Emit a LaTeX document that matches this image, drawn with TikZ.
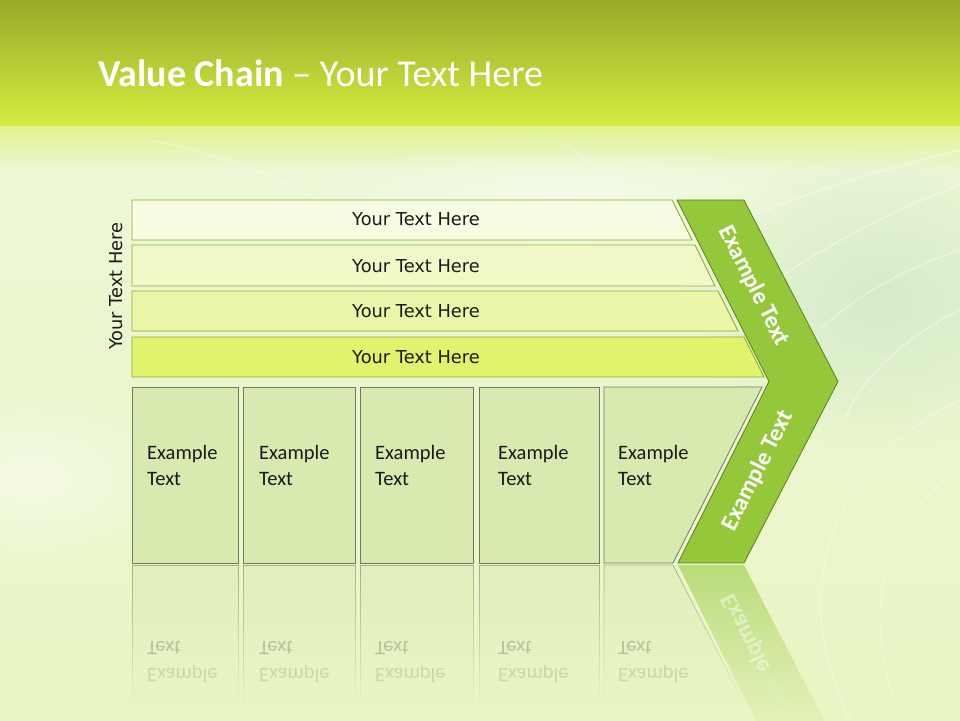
\documentclass[tikz,border=0pt]{standalone}
\usepackage{fontspec}
\setmainfont{Carlito}
\newfontfamily\dejavu{DejaVu Sans}
\usetikzlibrary{fadings}
\definecolor{bgtop}{RGB}{152,170,42}
\definecolor{bgmid}{RGB}{212,237,64}
\definecolor{bgband}{RGB}{224,242,140}
\definecolor{bgpale}{RGB}{236,247,214}
\definecolor{bgbot}{RGB}{234,245,196}
\definecolor{mint}{RGB}{208,232,200}
\definecolor{barA}{RGB}{247,252,226}
\definecolor{barB}{RGB}{241,249,200}
\definecolor{barC}{RGB}{235,246,168}
\definecolor{barD}{RGB}{225,242,108}
\definecolor{barline}{RGB}{140,172,48}
\definecolor{boxfill}{RGB}{216,234,176}
\definecolor{boxline}{RGB}{112,122,96}
\definecolor{chev}{RGB}{148,200,58}
\definecolor{chevline}{RGB}{88,130,30}
\definecolor{txt}{RGB}{26,26,26}
\tikzfading[name=reflfade, top color=transparent!45, bottom color=transparent!100]
\tikzfading[name=softglow, inner color=transparent!20, outer color=transparent!100]
\tikzset{
  barshape/.style={draw=barline, line width=0.9pt},
  boxshape/.style={draw=boxline, fill=boxfill, line width=0.8pt},
  bartext/.style={font=\dejavu\fontsize{17.8}{21}\selectfont, text=txt},
  boxtext/.style={font=\fontsize{20.5}{26}\selectfont, text=txt, align=left, anchor=west, inner sep=0pt},
  chevtext/.style={font=\bfseries\fontsize{24}{28}\selectfont, text=white, inner sep=0pt},
  refltext/.style={font=\fontsize{20.5}{26}\selectfont, text=txt, anchor=west, inner sep=0pt, yscale=-1},
  reflchev/.style={font=\bfseries\fontsize{24}{28}\selectfont, text=white, inner sep=0pt, text height=17pt, text depth=5pt, rotate=-63.43, yscale=-1},
  reflbox/.style={draw=boxline, fill=boxfill, line width=0.8pt, path fading=reflfade},
  ray/.style={white, line width=1.2pt, opacity=0.45}
}
\begin{document}
\begin{tikzpicture}[x=1pt,y=-1pt]
\useasboundingbox (0,0) rectangle (960,720);
% background
\shade[top color=bgtop, bottom color=bgmid] (0,0) rectangle (960,126);
\shade[top color=bgband, bottom color=bgpale] (0,126) rectangle (960,170);
\shade[top color=bgpale, bottom color=bgbot] (0,170) rectangle (960,720);
\fill[mint, path fading=softglow] (880,300) ellipse (200 and 150);
\fill[white, path fading=softglow, opacity=0.6] (30,480) ellipse (160 and 90);
\fill[white, path fading=softglow, opacity=0.6] (560,200) ellipse (260 and 60);
\draw[ray] (960,150) .. controls (860,175) and (780,200) .. (700,240);
\draw[ray] (960,185) .. controls (880,215) and (820,250) .. (760,290);
\draw[ray] (960,250) .. controls (900,270) and (850,300) .. (820,330);
\draw[ray] (960,310) .. controls (900,340) and (860,380) .. (845,420);
\draw[ray, opacity=0.35] (850,720) .. controls (790,600) and (820,470) .. (960,400);
\draw[ray, opacity=0.3] (900,720) .. controls (860,610) and (880,520) .. (960,470);
\draw[ray, opacity=0.35] (150,140) .. controls (250,160) and (330,200) .. (380,240);
\draw[ray, opacity=0.3] (560,140) .. controls (600,170) and (640,200) .. (660,220);
% reflections
\path[reflbox] (132,565) rectangle (238,705);
\path[reflbox] (243,565) rectangle (355,705);
\path[reflbox] (360,565) rectangle (473,705);
\path[reflbox] (479,565) rectangle (599,705);
\path[reflbox] (604,565) -- (673,565) -- (745,705) -- (604,705) -- cycle;
\fill[chev, path fading=reflfade] (678,565) -- (744,565) -- (838,747) -- (769,747) -- cycle;
\foreach \x/\n in {147/1,259/2,375/3,498/4,618/5}{
  \node[refltext, opacity=0.22] (rt\n) at (\x,648) {Text};
  \node[refltext, opacity=0.13] (re\n) at (\x,674) {Example};
}
\node[reflchev, opacity=0.45] (rch1) at (747,633) {Example};
\node[reflchev, opacity=0.12] (rch2) at (778,695) {Text};
% bars
\path[barshape, fill=barA] (132,200) -- (672,200) -- (692,240) -- (132,240) -- cycle;
\path[barshape, fill=barB] (132,245) -- (695,245) -- (715,286) -- (132,286) -- cycle;
\path[barshape, fill=barC] (132,291) -- (718,291) -- (738,331) -- (132,331) -- cycle;
\path[barshape, fill=barD] (132,337) -- (744,337) -- (764,377) -- (132,377) -- cycle;
\node[bartext] (t1) at (416,219) {Your Text Here};
\node[bartext] (t2) at (416,266) {Your Text Here};
\node[bartext] (t3) at (416,311) {Your Text Here};
\node[bartext] (t4) at (416,357) {Your Text Here};
% boxes
\path[boxshape] (132,387) rectangle (238,563);
\path[boxshape] (243,387) rectangle (355,563);
\path[boxshape] (360,387) rectangle (473,563);
\path[boxshape] (479,387) rectangle (599,563);
\path[boxshape] (604,387) -- (762,387) -- (673,563) -- (604,563) -- cycle;
\node[boxtext] (b1) at (147,465) {Example\\Text};
\node[boxtext] (b2) at (259,465) {Example\\Text};
\node[boxtext] (b3) at (375,465) {Example\\Text};
\node[boxtext] (b4) at (498,465) {Example\\Text};
\node[boxtext] (b5) at (618,465) {Example\\Text};
% chevron
\path[draw=chevline, fill=chev, line width=0.8pt] (677,200) -- (744,200) -- (838,381.5) -- (744,563) -- (678,563) -- (769,381.5) -- cycle;
\node[chevtext, rotate=-63.43] (c1) at (754,286) {Example Text};
\node[chevtext, rotate=63.43] (c2) at (758,471) {Example Text};
% side label and title
\node[bartext, rotate=90] (side) at (116,286) {Your Text Here};
\node[anchor=west, text=white, font=\fontsize{38}{44}\selectfont, inner sep=0pt] (title) at (98,73) {\textbf{Value Chain} – Your Text Here};
\end{tikzpicture}
\end{document}
